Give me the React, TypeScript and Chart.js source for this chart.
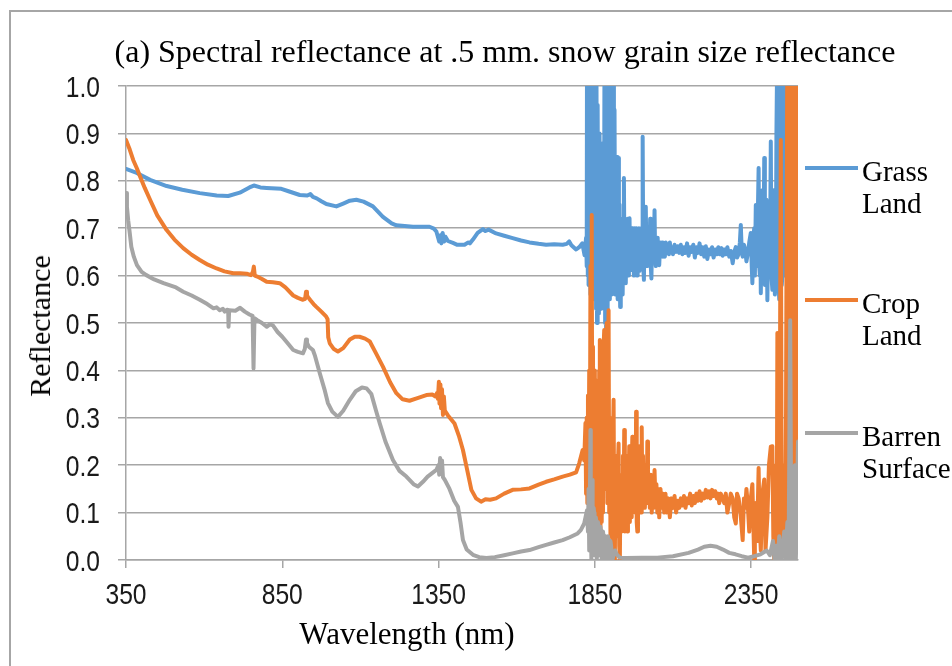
import React, { useEffect, useRef } from "react";
import { Chart, registerables } from "chart.js";

Chart.register(...registerables);

// [wavelength nm, reflectance]
const grassPoints: [number, number][] = [
  [350, 0.825], [380, 0.818], [427, 0.802], [480, 0.789], [530, 0.781], [586, 0.774], [640, 0.769],
  [677, 0.768], [714, 0.775], [745, 0.786], [759, 0.79], [780, 0.786], [800, 0.785], [847, 0.783],
  [870, 0.778], [906, 0.77], [930, 0.769], [940, 0.772], [948, 0.766], [960, 0.763], [975, 0.757],
  [991, 0.751], [1023, 0.746], [1045, 0.752], [1066, 0.758], [1087, 0.76], [1110, 0.756], [1140, 0.746],
  [1172, 0.724], [1200, 0.71], [1215, 0.706], [1268, 0.703], [1321, 0.703], [1335, 0.699], [1343, 0.693],
  [1352, 0.672], [1356, 0.685], [1359, 0.668], [1363, 0.69], [1368, 0.672], [1372, 0.682], [1380, 0.673],
  [1396, 0.669], [1410, 0.665], [1433, 0.665], [1445, 0.67], [1450, 0.668], [1460, 0.676], [1475, 0.69],
  [1492, 0.698], [1500, 0.694], [1510, 0.697], [1534, 0.689], [1560, 0.684], [1587, 0.679], [1614, 0.674],
  [1641, 0.67], [1670, 0.667], [1694, 0.665], [1720, 0.666], [1747, 0.665], [1760, 0.667], [1768, 0.672],
  [1775, 0.664], [1790, 0.655], [1800, 0.66], [1810, 0.668], [1817, 0.643], [1822, 0.68],
  [1824, 0.62], [1825, 1.1], [1827, 0.6], [1828, 1.1], [1830, 0.58], [1831, 1.1], [1833, 0.63], [1834, 1.1],
  [1836, 0.56], [1837, 1.1], [1839, 0.6], [1840, 1.1], [1842, 0.57], [1843, 1.1], [1845, 0.62], [1846, 1.1],
  [1848, 0.55], [1849, 1.1], [1851, 0.6], [1852, 1.1], [1854, 0.53], [1855, 1.1], [1857, 0.5], [1859, 0.96],
  [1861, 0.52], [1863, 0.85], [1865, 0.9], [1867, 0.55], [1869, 0.82], [1871, 0.53], [1873, 0.78],
  [1875, 0.6], [1877, 0.88], [1879, 0.55], [1881, 1.1], [1883, 0.5], [1884, 1.1], [1886, 0.48], [1887, 1.1],
  [1889, 0.55], [1890, 1.1], [1892, 0.52], [1893, 1.1], [1895, 0.58], [1896, 1.1], [1898, 0.55], [1899, 1.1],
  [1901, 0.6], [1902, 1.1], [1904, 0.56], [1905, 1.1], [1907, 0.62], [1909, 1.1], [1911, 0.58], [1913, 0.95],
  [1915, 0.56], [1917, 0.8], [1919, 0.6], [1921, 0.85], [1923, 0.55], [1925, 0.848], [1927, 0.58],
  [1929, 0.75], [1931, 0.534], [1933, 0.7], [1935, 0.57], [1937, 0.72], [1939, 0.56], [1941, 0.68],
  [1943, 0.806], [1945, 0.6], [1947, 0.7], [1949, 0.584], [1951, 0.68], [1953, 0.62], [1955, 0.72],
  [1957, 0.6], [1959, 0.7], [1961, 0.721], [1963, 0.62], [1965, 0.68], [1967, 0.612], [1969, 0.7],
  [1971, 0.63], [1973, 0.68], [1975, 0.6], [1977, 0.7], [1979, 0.62], [1981, 0.66], [1983, 0.7],
  [1985, 0.6], [1987, 0.68], [1989, 0.64], [1991, 0.7], [1993, 0.61], [1995, 0.67], [1997, 0.62],
  [1999, 0.7], [2001, 0.64], [2003, 0.893], [2005, 0.62], [2007, 0.591], [2009, 0.7], [2011, 0.62],
  [2013, 0.745], [2015, 0.64], [2017, 0.62], [2019, 0.68], [2021, 0.63], [2023, 0.66], [2025, 0.65],
  [2027, 0.72], [2029, 0.62], [2031, 0.594], [2033, 0.67], [2035, 0.63], [2037, 0.7], [2039, 0.65],
  [2041, 0.738], [2043, 0.64], [2045, 0.62], [2047, 0.67], [2049, 0.64], [2051, 0.68], [2053, 0.64],
  [2056, 0.622], [2059, 0.67], [2062, 0.65], [2065, 0.67], [2068, 0.64], [2071, 0.66], [2074, 0.64],
  [2077, 0.67], [2080, 0.65], [2084, 0.66], [2087, 0.645], [2090, 0.67], [2093, 0.65], [2097, 0.66],
  [2100, 0.645], [2105, 0.665], [2110, 0.65], [2115, 0.662], [2120, 0.648], [2125, 0.665], [2130, 0.645],
  [2135, 0.66], [2140, 0.648], [2145, 0.668], [2150, 0.642], [2155, 0.66], [2160, 0.65], [2165, 0.665],
  [2170, 0.638], [2175, 0.66], [2180, 0.648], [2185, 0.668], [2190, 0.645], [2195, 0.66], [2200, 0.64],
  [2205, 0.662], [2210, 0.635], [2215, 0.655], [2220, 0.645], [2225, 0.66], [2230, 0.638], [2235, 0.655],
  [2240, 0.645], [2245, 0.66], [2250, 0.645], [2255, 0.658], [2259, 0.642], [2264, 0.655], [2269, 0.645],
  [2274, 0.66], [2280, 0.64], [2285, 0.652], [2291, 0.626], [2296, 0.65], [2301, 0.66], [2305, 0.638],
  [2310, 0.645], [2314, 0.67], [2317, 0.707], [2320, 0.65], [2323, 0.64], [2327, 0.665], [2331, 0.655],
  [2335, 0.63], [2339, 0.645], [2344, 0.67], [2349, 0.69], [2352, 0.62], [2354, 0.584], [2357, 0.68],
  [2360, 0.7], [2362, 0.6], [2365, 0.749], [2367, 0.64], [2369, 0.62], [2372, 0.75], [2374, 0.827],
  [2376, 0.62], [2378, 0.6], [2379, 0.72], [2381, 0.563], [2384, 0.7], [2386, 0.78], [2389, 0.62],
  [2392, 0.848], [2394, 0.58], [2397, 0.6], [2399, 0.76], [2402, 0.548], [2405, 0.7], [2408, 0.75],
  [2410, 0.6], [2413, 0.883], [2415, 0.6], [2418, 0.57], [2421, 0.78], [2424, 0.7], [2426, 0.56],
  [2429, 0.6], [2431, 0.9], [2434, 1.1], [2437, 0.6], [2440, 0.55], [2442, 1.1], [2445, 1.1],
  [2448, 0.58], [2450, 0.6], [2453, 1.1], [2456, 1.1], [2458, 0.6], [2461, 0.65], [2463, 1.1], [2466, 1.1],
  [2468, 0.6], [2470, 0.6], [2473, 1.1], [2475, 1.1], [2478, 0.65], [2480, 0.7], [2483, 1.1], [2485, 1.1],
  [2488, 0.5], [2490, 0.25], [2493, 1.1], [2495, 1.1], [2498, 0.4], [2500, 0.3],
];

const cropPoints: [number, number][] = [
  [350, 0.886], [362, 0.866], [373, 0.844], [385, 0.826], [395, 0.809], [410, 0.785], [427, 0.76],
  [450, 0.727], [480, 0.696], [505, 0.676], [533, 0.658], [560, 0.644], [586, 0.633], [612, 0.623],
  [640, 0.615], [665, 0.609], [693, 0.605], [715, 0.605], [736, 0.604], [750, 0.601], [756, 0.608],
  [759, 0.619], [762, 0.6], [770, 0.598], [785, 0.593], [800, 0.587], [820, 0.586], [842, 0.584],
  [860, 0.575], [885, 0.558], [900, 0.553], [916, 0.549], [923, 0.551], [926, 0.566], [929, 0.558],
  [933, 0.554], [940, 0.548], [950, 0.54], [959, 0.534], [975, 0.524], [990, 0.514], [995, 0.508],
  [997, 0.47], [1002, 0.457], [1015, 0.445], [1028, 0.44], [1045, 0.447], [1066, 0.465], [1082, 0.471],
  [1097, 0.471], [1115, 0.467], [1130, 0.461], [1150, 0.436], [1172, 0.408], [1195, 0.375], [1215, 0.352],
  [1235, 0.339], [1257, 0.336], [1280, 0.341], [1311, 0.348], [1330, 0.349], [1340, 0.345], [1345, 0.352],
  [1348, 0.34], [1351, 0.376], [1353, 0.33], [1356, 0.37], [1358, 0.32], [1361, 0.36], [1364, 0.306],
  [1367, 0.345], [1370, 0.315], [1380, 0.305], [1401, 0.288], [1415, 0.262], [1428, 0.232], [1440, 0.195],
  [1455, 0.148], [1470, 0.13], [1486, 0.123], [1500, 0.128], [1515, 0.127], [1534, 0.13], [1560, 0.14],
  [1587, 0.148], [1614, 0.149], [1641, 0.151], [1670, 0.159], [1694, 0.165], [1720, 0.17], [1747, 0.176],
  [1770, 0.18], [1790, 0.185], [1800, 0.204], [1811, 0.232], [1816, 0.21], [1820, 0.289], [1822, 0.14],
  [1824, 0.3], [1826, 0.12], [1828, 0.347], [1830, 0.18], [1832, 0.4], [1834, 0.15], [1836, 0.62],
  [1838, 0.2], [1840, 0.728], [1842, 0.12], [1844, 0.45], [1846, 0.1], [1848, 0.4], [1850, 0.08],
  [1852, 0.38], [1854, 0.1], [1856, 0.33], [1858, 0.06], [1860, 0.3], [1862, 0.08], [1864, 0.4],
  [1866, 0.464], [1868, 0.05], [1870, 0.42], [1872, 0.08], [1874, 0.4], [1876, 0.1], [1878, 0.45],
  [1880, 0.485], [1882, 0.15], [1884, 0.42], [1886, 0.2], [1888, 0.5], [1890, 0.12], [1892, 0.45],
  [1894, 0.527], [1896, 0.1], [1898, 0.3], [1900, 0.05], [1902, 0.28], [1904, 0.08], [1906, 0.03],
  [1908, 0.25], [1910, 0.338], [1912, 0.05], [1914, 0.0], [1916, 0.2], [1918, 0.1], [1920, 0.22],
  [1922, 0.05], [1924, 0.2], [1926, 0.246], [1928, 0.03], [1930, 0.0], [1932, 0.15], [1934, 0.06],
  [1936, 0.18], [1938, 0.08], [1940, 0.22], [1942, 0.1], [1944, 0.274], [1946, 0.06], [1948, 0.2],
  [1950, 0.08], [1952, 0.22], [1954, 0.06], [1956, 0.18], [1958, 0.1], [1960, 0.24], [1962, 0.08],
  [1964, 0.22], [1966, 0.09], [1968, 0.2], [1970, 0.26], [1972, 0.1], [1974, 0.22], [1976, 0.12],
  [1978, 0.2], [1980, 0.1], [1982, 0.313], [1984, 0.08], [1986, 0.06], [1988, 0.22], [1990, 0.1],
  [1992, 0.24], [1994, 0.12], [1996, 0.2], [1998, 0.1], [2000, 0.28], [2002, 0.12], [2004, 0.22],
  [2006, 0.13], [2008, 0.2], [2010, 0.11], [2013, 0.18], [2016, 0.12], [2018, 0.25], [2020, 0.12],
  [2023, 0.18], [2026, 0.11], [2029, 0.18], [2032, 0.1], [2035, 0.17], [2038, 0.11], [2041, 0.19],
  [2044, 0.12], [2047, 0.16], [2050, 0.1], [2053, 0.15], [2056, 0.09], [2060, 0.15], [2064, 0.11],
  [2068, 0.14], [2072, 0.1], [2076, 0.14], [2080, 0.1], [2085, 0.13], [2090, 0.09], [2095, 0.13],
  [2100, 0.11], [2105, 0.135], [2110, 0.1], [2115, 0.125], [2120, 0.11], [2125, 0.13], [2130, 0.115],
  [2135, 0.135], [2140, 0.11], [2145, 0.13], [2150, 0.12], [2155, 0.14], [2160, 0.115], [2165, 0.135],
  [2170, 0.12], [2175, 0.14], [2180, 0.125], [2185, 0.145], [2190, 0.125], [2195, 0.14], [2200, 0.13],
  [2205, 0.148], [2210, 0.132], [2215, 0.145], [2220, 0.13], [2225, 0.148], [2230, 0.135], [2235, 0.145],
  [2240, 0.13], [2244, 0.14], [2248, 0.12], [2253, 0.14], [2259, 0.13], [2264, 0.12], [2269, 0.14],
  [2274, 0.1], [2280, 0.12], [2285, 0.14], [2291, 0.13], [2296, 0.09], [2301, 0.077], [2305, 0.14],
  [2310, 0.13], [2316, 0.1], [2323, 0.042], [2327, 0.13], [2331, 0.11], [2335, 0.15], [2339, 0.12],
  [2344, 0.06], [2349, 0.13], [2354, 0.16], [2360, 0.0], [2362, 0.1], [2365, 0.12], [2369, 0.04],
  [2374, 0.194], [2377, 0.08], [2381, 0.02], [2386, 0.14], [2392, 0.17], [2396, 0.02], [2402, 0.09],
  [2407, 0.2], [2413, 0.239], [2418, 0.24], [2421, 0.05], [2424, 0.0], [2429, 0.2], [2432, 0.03],
  [2434, 0.479], [2437, 0.1], [2440, 0.0], [2445, 0.886], [2447, 0.3], [2450, 0.02], [2453, 0.2],
  [2456, 0.05], [2461, 0.15], [2463, 0.6], [2466, 1.1], [2468, 0.2], [2470, 0.0], [2473, 0.8],
  [2475, 1.1], [2478, 0.3], [2480, 0.05], [2483, 0.9], [2485, 1.1], [2488, 0.4], [2490, 0.1],
  [2493, 0.9], [2495, 1.1], [2498, 0.5], [2500, 0.2],
];

const barrenPoints: [number, number][] = [
  [350, 0.774], [353, 0.745], [357, 0.717], [362, 0.69], [367, 0.661], [375, 0.64], [385, 0.622],
  [400, 0.608], [415, 0.601], [440, 0.592], [470, 0.584], [510, 0.575], [533, 0.566], [560, 0.558],
  [586, 0.549], [610, 0.54], [630, 0.531], [640, 0.533], [650, 0.527], [660, 0.53], [666, 0.524],
  [673, 0.528], [677, 0.527], [678, 0.492], [680, 0.527], [700, 0.526], [715, 0.532], [730, 0.524],
  [745, 0.518], [755, 0.515], [758, 0.404], [761, 0.51], [770, 0.506], [785, 0.5], [800, 0.492],
  [810, 0.497], [820, 0.495], [835, 0.481], [850, 0.471], [870, 0.455], [885, 0.443], [900, 0.439],
  [916, 0.436], [922, 0.445], [926, 0.465], [929, 0.458], [935, 0.45], [948, 0.443], [955, 0.43],
  [970, 0.394], [985, 0.36], [996, 0.331], [1010, 0.313], [1028, 0.302], [1045, 0.315], [1066, 0.338],
  [1085, 0.356], [1105, 0.364], [1120, 0.362], [1135, 0.35], [1150, 0.315], [1162, 0.288], [1180, 0.25],
  [1204, 0.211], [1225, 0.188], [1247, 0.176], [1270, 0.16], [1284, 0.155], [1300, 0.165], [1315, 0.176],
  [1343, 0.19], [1350, 0.2], [1352, 0.18], [1355, 0.215], [1358, 0.185], [1361, 0.21], [1364, 0.175],
  [1370, 0.169], [1385, 0.15], [1400, 0.125], [1412, 0.112], [1420, 0.08], [1428, 0.042], [1440, 0.022],
  [1460, 0.011], [1480, 0.006], [1503, 0.004], [1530, 0.006], [1560, 0.01], [1587, 0.014], [1614, 0.018],
  [1641, 0.021], [1670, 0.027], [1694, 0.032], [1720, 0.037], [1747, 0.042], [1770, 0.048], [1795, 0.056],
  [1805, 0.063], [1816, 0.077], [1825, 0.105], [1828, 0.06], [1830, 0.15], [1832, 0.02], [1833, 0.05],
  [1836, 0.274], [1837, 0.1], [1839, 0.0], [1842, 0.169], [1843, 0.03], [1845, 0.04], [1846, 0.11],
  [1848, 0.1], [1849, 0.01], [1851, 0.03], [1853, 0.09], [1855, 0.08], [1856, 0.0], [1858, 0.02],
  [1860, 0.08], [1862, 0.07], [1864, 0.01], [1866, 0.03], [1868, 0.07], [1870, 0.06], [1872, 0.0],
  [1874, 0.02], [1876, 0.06], [1878, 0.05], [1880, 0.0], [1882, 0.01], [1884, 0.05], [1886, 0.04],
  [1888, 0.0], [1890, 0.0], [1892, 0.05], [1894, 0.04], [1896, 0.0], [1898, 0.02], [1900, 0.04],
  [1902, 0.03], [1906, 0.0], [1910, 0.01], [1915, 0.02], [1920, 0.012], [1930, 0.005], [1950, 0.004],
  [2000, 0.005], [2050, 0.005], [2100, 0.008], [2150, 0.015], [2180, 0.022], [2200, 0.028], [2220, 0.03],
  [2240, 0.028], [2260, 0.022], [2280, 0.015], [2300, 0.012], [2320, 0.008], [2340, 0.005], [2360, 0.008],
  [2380, 0.012], [2400, 0.02], [2410, 0.01], [2420, 0.04], [2425, 0.0], [2430, 0.03], [2435, 0.0],
  [2440, 0.05], [2445, 0.0], [2450, 0.02], [2456, 0.06], [2459, 0.0], [2462, 0.03], [2466, 0.08],
  [2468, 0.0], [2470, 0.02], [2475, 0.506], [2478, 0.1], [2480, 0.0], [2482, 0.15], [2486, 0.03],
  [2488, 0.0], [2490, 0.2], [2493, 0.0], [2495, 0.05], [2500, 0.25],
];

const xTickValues = [350, 850, 1350, 1850, 2350];
const yTickValues = [0, 0.1, 0.2, 0.3, 0.4, 0.5, 0.6, 0.7, 0.8, 0.9, 1.0];
const seriesNames = ["Grass Land", "Crop Land", "Barren Surface"];
const legendLines = [["Grass", "Land"], ["Crop", "Land"], ["Barren", "Surface"]];
const titleText = "(a) Spectral reflectance at .5 mm. snow grain size reflectance";
const xTitle = "Wavelength (nm)";
const yTitle = "Reflectance";

const COLORS = ["#5B9BD5", "#ED7D31", "#A5A5A5"];
const GRID = "#a6a6a6";
const SERIF = "'Liberation Serif', 'Times New Roman', serif";
const TICK_FONT = "30px 'Liberation Sans', Arial, sans-serif";
const TICK_SQUEEZE = 0.82;

const tickLabelPlugin = {
  id: "narrowTickLabels",
  afterDraw(chart: any) {
    const ctx = chart.ctx as CanvasRenderingContext2D;
    const xs = chart.scales.x;
    const ys = chart.scales.y;
    ctx.save();
    ctx.font = TICK_FONT;
    ctx.fillStyle = "#1a1a1a";
    ctx.textBaseline = "alphabetic";
    ctx.textAlign = "right";
    yTickValues.forEach((v) => {
      const py = ys.getPixelForValue(v);
      ctx.save();
      ctx.translate(ys.right - 26, py + 10.5);
      ctx.scale(TICK_SQUEEZE, 1);
      ctx.fillText(v.toFixed(1), 0, 0);
      ctx.restore();
    });
    ctx.textAlign = "center";
    xTickValues.forEach((v) => {
      const px = xs.getPixelForValue(v);
      ctx.save();
      ctx.translate(px, xs.top + 44);
      ctx.scale(TICK_SQUEEZE, 1);
      ctx.fillText(String(v), 0, 0);
      ctx.restore();
    });
    ctx.restore();
  },
};

export default function App() {
  const ref = useRef<HTMLCanvasElement | null>(null);

  useEffect(() => {
    if (!ref.current) return;
    const all = [grassPoints, cropPoints, barrenPoints];
    const chart = new Chart(ref.current, {
      type: "line",
      data: {
        datasets: all.map((pts, i) => ({
          label: seriesNames[i],
          data: pts.map(([x, y]) => ({ x, y })),
          borderColor: COLORS[i],
          backgroundColor: COLORS[i],
          borderWidth: 4,
          pointRadius: 0,
          tension: 0,
          borderJoinStyle: "round" as const,
          borderCapStyle: "round" as const,
          order: 3 - i,
        })),
      },
      options: {
        animation: false,
        responsive: false,
        maintainAspectRatio: false,
        events: [],
        layout: { padding: { left: 0, top: 86, right: 154, bottom: 0 } },
        plugins: { legend: { display: false }, tooltip: { enabled: false }, title: { display: false } },
        scales: {
          x: {
            type: "linear",
            min: 350,
            max: 2500,
            afterBuildTicks: (axis: any) => {
              axis.ticks = xTickValues.map((v) => ({ value: v }));
            },
            afterFit: (scale: any) => {
              scale.height = 106;
            },
            ticks: { display: false, autoSkip: false, maxRotation: 0 },
            grid: { drawOnChartArea: false, drawTicks: true, tickLength: 8, color: GRID, lineWidth: 1.5 },
            border: { display: true, color: GRID, width: 1.5 },
          },
          y: {
            min: 0,
            max: 1,
            afterBuildTicks: (axis: any) => {
              axis.ticks = yTickValues.map((v) => ({ value: v }));
            },
            afterFit: (scale: any) => {
              scale.width = 126;
            },
            ticks: { display: false },
            grid: { color: GRID, lineWidth: 1.5, tickLength: 8, drawTicks: true },
            border: { display: true, color: GRID, width: 1.5 },
          },
        },
      },
      plugins: [tickLabelPlugin],
    });
    return () => chart.destroy();
  }, []);

  const legendTops = [155, 287, 420];
  const markerYs = [168, 300, 433];

  return (
    <div style={{ position: "absolute", left: 0, top: 0, width: 952, height: 666, overflow: "hidden", background: "#fff" }}>
      <div style={{ position: "absolute", left: 9, top: 10, width: 1100, height: 800, border: "2px solid #a6a6a6", boxSizing: "border-box" }} />
      <canvas ref={ref} width={952} height={666} style={{ position: "absolute", left: 0, top: 0, width: 952, height: 666 }} />
      <div style={{ position: "absolute", left: 505, top: 36, transform: "translateX(-50%)", whiteSpace: "nowrap", fontFamily: SERIF, fontSize: 32, lineHeight: "31px", color: "#000" }}>
        {titleText}
      </div>
      <div style={{ position: "absolute", left: 407, top: 618, transform: "translateX(-50%)", whiteSpace: "nowrap", fontFamily: SERIF, fontSize: 31, lineHeight: "31px", color: "#000" }}>
        {xTitle}
      </div>
      <div style={{ position: "absolute", left: 40, top: 326, transform: "translate(-50%, -50%) rotate(-90deg)", whiteSpace: "nowrap", fontFamily: SERIF, fontSize: 30, lineHeight: "30px", color: "#000" }}>
        {yTitle}
      </div>
      {legendLines.map((lines, i) => (
        <React.Fragment key={i}>
          <div style={{ position: "absolute", left: 805, top: markerYs[i] - 2, width: 53, height: 4, background: COLORS[i] }} />
          <div style={{ position: "absolute", left: 862, top: legendTops[i], fontFamily: SERIF, fontSize: 29, lineHeight: "32px", color: "#000", whiteSpace: "nowrap" }}>
            {lines.map((t, j) => (
              <div key={j}>{t}</div>
            ))}
          </div>
        </React.Fragment>
      ))}
    </div>
  );
}
